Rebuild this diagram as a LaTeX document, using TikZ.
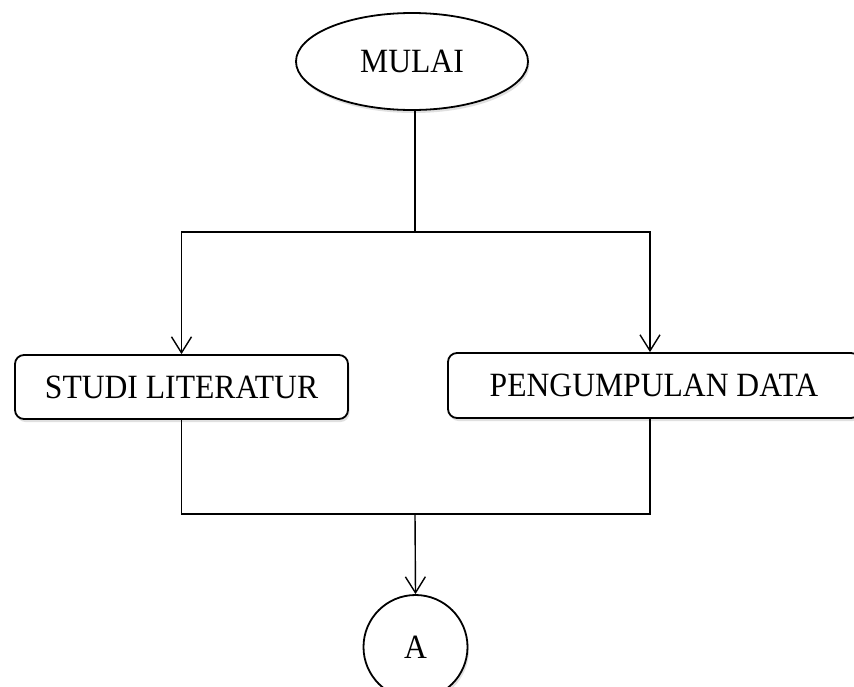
\documentclass[tikz,border=0pt]{standalone}
\usepackage{fontspec}
\setmainfont[FakeStretch=0.93]{Liberation Serif}
\usetikzlibrary{arrows.meta,shapes.geometric,shadows}
\begin{document}
\begin{tikzpicture}[x=1pt,y=-1pt,
  shp/.style={draw, line width=1.8pt, fill=white, inner sep=0pt,
    font=\fontsize{34}{40}\selectfont,
    drop shadow={shadow xshift=1.5pt, shadow yshift=-3pt, opacity=0.12, fill=black}},
  stepbox/.style={shp, rounded corners=9pt},
  startnode/.style={shp, ellipse},
  connnode/.style={shp, circle},
  conn/.style={line width=1.4pt},
  arr/.style={conn, -{Straight Barb[length=16pt,width=20pt,line width=1.4pt]}}]
\useasboundingbox (0,0) rectangle (854,686);
\clip (0,0) rectangle (854,686);
\node[startnode, minimum width=232pt, minimum height=97pt] (mulai) at (412,61.5) {MULAI};
\node[stepbox, minimum width=333pt, minimum height=64pt] (studi) at (181.5,387) {STUDI LITERATUR};
\node[stepbox, minimum width=412pt, minimum height=65pt] (peng) at (654,385.5) {PENGUMPULAN DATA};
\node[connnode, minimum size=104pt] (a) at (415.5,647) {A};
\coordinate (split) at (415,232);
\coordinate (join) at (415,514);
\draw[conn] (split |- mulai.south) -- (split);
\draw[arr] (split) -| (studi.north);
\draw[arr] (split) -| ([xshift=-4pt]peng.north);
\draw[conn] (studi.south) |- (join);
\draw[conn] ([xshift=-4pt]peng.south) |- (join);
\draw[arr] (join) -- (a.north);
\end{tikzpicture}
\end{document}
